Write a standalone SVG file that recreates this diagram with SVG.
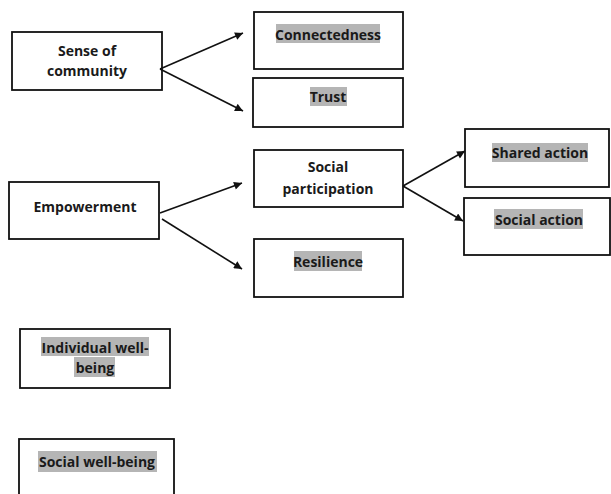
<svg xmlns="http://www.w3.org/2000/svg" width="611" height="494" viewBox="0 0 611 494">
<style>
.box{fill:#fff;stroke:#111;stroke-width:1.8}
.hl{fill:#b5b5b5}
text{font-family:"Open Sans","Noto Sans","DejaVu Sans",sans-serif;font-weight:700;font-size:14px;fill:#1a1a1a;text-anchor:middle}
.conn line{stroke:#111;stroke-width:1.6;marker-end:url(#ah)}
</style>
<defs>
<marker id="ah" viewBox="0 0 10 10" refX="10" refY="5" markerWidth="9" markerHeight="8" markerUnits="userSpaceOnUse" orient="auto">
<path d="M0,0 L10,5 L0,10 z" fill="#111"/>
</marker>
</defs>
<rect width="611" height="494" fill="#fff"/>
<g id="sense-of-community">
<rect class="box" x="12" y="32" width="150" height="58"/>
<text x="87" y="56">Sense of</text>
<text x="87" y="76">community</text>
</g>
<g id="connectedness">
<rect class="box" x="254" y="12" width="149" height="57"/>
<rect class="hl" x="276" y="24" width="104" height="19"/>
<text x="328" y="40">Connectedness</text>
</g>
<g id="trust">
<rect class="box" x="253" y="78" width="150" height="49"/>
<rect class="hl" x="310" y="87" width="37" height="19"/>
<text x="328" y="102">Trust</text>
</g>
<g id="empowerment">
<rect class="box" x="9" y="182" width="150" height="57"/>
<text x="85" y="212">Empowerment</text>
</g>
<g id="social-participation">
<rect class="box" x="254" y="150" width="149" height="57"/>
<text x="328" y="172">Social</text>
<text x="328" y="194">participation</text>
</g>
<g id="resilience">
<rect class="box" x="254" y="239" width="149" height="58"/>
<rect class="hl" x="294" y="251" width="68" height="20"/>
<text x="328" y="267">Resilience</text>
</g>
<g id="shared-action">
<rect class="box" x="465" y="129" width="144" height="58"/>
<rect class="hl" x="492" y="143" width="96" height="19"/>
<text x="540" y="158">Shared action</text>
</g>
<g id="social-action">
<rect class="box" x="464" y="198" width="146" height="57"/>
<rect class="hl" x="494" y="209" width="89" height="20"/>
<text x="539" y="225">Social action</text>
</g>
<g id="individual-well-being">
<rect class="box" x="20" y="329" width="150" height="59"/>
<rect class="hl" x="41" y="337" width="108" height="19"/>
<rect class="hl" x="74" y="357" width="41" height="20"/>
<text x="95" y="353">Individual well-</text>
<text x="95" y="373">being</text>
</g>
<g id="social-well-being">
<rect class="box" x="19" y="439" width="155" height="70"/>
<rect class="hl" x="38" y="451" width="119" height="21"/>
<text x="97" y="467">Social well-being</text>
</g>
<g id="connectors" class="conn">
<line x1="160" y1="69" x2="243" y2="33"/>
<line x1="160" y1="69" x2="243" y2="111"/>
<line x1="160" y1="213" x2="242" y2="183"/>
<line x1="162" y1="219" x2="242" y2="269"/>
<line x1="403" y1="186" x2="465" y2="151"/>
<line x1="403" y1="186" x2="463" y2="221"/>
</g>
</svg>
